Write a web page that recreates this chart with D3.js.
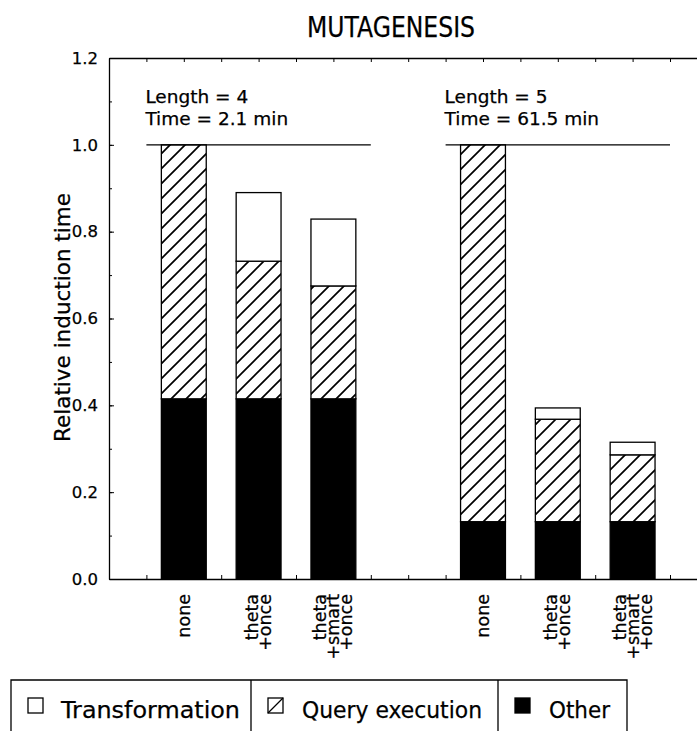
<!DOCTYPE html>
<html>
<head>
<meta charset="utf-8">
<script src="https://cdn.jsdelivr.net/npm/d3@7"></script>
<style>
  body { margin: 0; background: #fff; }
  text { font-family: "DejaVu Sans", sans-serif; fill: #000; stroke: #000; stroke-width: 0.25px; }
</style>
</head>
<body>
<div id="chart"></div>
<script>
// data
const groupLengths = ["Length = 4", "Length = 5"];
const groupTimes = ["Time = 2.1 min", "Time = 61.5 min"];
const methods = [["none"], ["theta", "+once"], ["theta", "+smart", "+once"]];
const otherVals = [[0.415, 0.415, 0.415], [0.132, 0.132, 0.132]];
const queryVals = [[0.585, 0.317, 0.260], [0.868, 0.236, 0.154]];
const transformVals = [[0.0, 0.158, 0.154], [0.0, 0.026, 0.029]];
const yTicks = [0.0, 0.2, 0.4, 0.6, 0.8, 1.0, 1.2];
const baseline = 1.0;
const legendNames = ["Transformation", "Query execution", "Other"];

const W = 697, H = 731;
const margin = { top: 58, left: 109, bottom: 152 };

const svg = d3.select("#chart")
  .append("svg")
    .attr("width", W)
    .attr("height", H);

const defs = svg.append("defs");
const hatch = defs.append("pattern")
    .attr("id", "hatch")
    .attr("patternUnits", "userSpaceOnUse")
    .attr("width", 15)
    .attr("height", 15);
hatch.append("rect").attr("width", 15).attr("height", 15).attr("fill", "#fff");
hatch.append("path")
    .attr("d", "M-4,4L4,-4M0,15L15,0M11,19L19,11")
    .attr("stroke", "#000")
    .attr("stroke-width", 1.7);

// x runs in "slot" units, 2 slots between bars, 8 per group
const x = d3.scaleLinear()
  .domain([0, 16])
  .range([margin.left, margin.left + 16 * 37.4]);

const y = d3.scaleLinear()
  .domain([0, 1.2])
  .range([H - margin.bottom, margin.top]);

const slot = (g, i) => 2 + 8 * g + 2 * i;
const barW = x(1.2) - x(0);

// axes
const yMinor = d3.range(0, 1.21, 0.1);
svg.append("g")
  .attr("transform", `translate(${margin.left},0)`)
  .call(d3.axisLeft(y).tickValues(yMinor).tickSize(-3).tickSizeOuter(0).tickFormat(""))
  .call(g => g.select(".domain").remove());

svg.append("g")
  .attr("transform", `translate(${margin.left},0)`)
  .call(d3.axisLeft(y).tickValues(yTicks).tickSize(-5).tickSizeOuter(0).tickFormat(d3.format(".1f")))
  .call(g => g.selectAll("text").attr("x", -11).attr("font-size", 16.5))
  .call(g => g.select(".domain").attr("stroke-width", 1.3));

const xTicks = d3.range(0, 17);
svg.append("g")
  .attr("transform", `translate(0,${y(1.2)})`)
  .call(d3.axisTop(x).tickValues(xTicks).tickSize(-4).tickSizeOuter(0).tickFormat(""))
  .call(g => g.select(".domain").attr("stroke-width", 1.3));

svg.append("g")
  .attr("transform", `translate(0,${y(0)})`)
  .call(d3.axisBottom(x).tickValues(xTicks).tickSize(-4).tickSizeOuter(0).tickFormat(""))
  .call(g => g.select(".domain").attr("stroke-width", 1.3));

// stacked bars
const segments = [];
otherVals.forEach((row, g) => {
  row.forEach((o, i) => {
    const q = queryVals[g][i], t = transformVals[g][i];
    segments.push({ g, i, y0: 0, y1: o, fill: "#000" });
    segments.push({ g, i, y0: o, y1: o + q, fill: "url(#hatch)" });
    if (t > 0) segments.push({ g, i, y0: o + q, y1: o + q + t, fill: "#fff" });
  });
});

svg.append("g")
  .selectAll("rect")
  .data(segments)
  .enter()
  .append("rect")
    .attr("x", d => x(slot(d.g, d.i)) - barW / 2)
    .attr("y", d => y(d.y1))
    .attr("width", barW)
    .attr("height", d => y(d.y0) - y(d.y1))
    .attr("fill", d => d.fill)
    .attr("stroke", "#000")
    .attr("stroke-width", 1.3);

// reference line at 1.0 and group notes
groupLengths.forEach((label, g) => {
  svg.append("line")
    .attr("x1", x(slot(g, 0) - 1))
    .attr("x2", x(slot(g, 2) + 1))
    .attr("y1", y(baseline))
    .attr("y2", y(baseline))
    .attr("stroke", "#000")
    .attr("stroke-width", 1.3);

  svg.append("text")
    .attr("x", x(slot(g, 0) - 1) - 1)
    .attr("y", margin.top + 45)
    .attr("font-size", 18.5)
    .text(label);
  svg.append("text")
    .attr("x", x(slot(g, 0) - 1) - 1)
    .attr("y", margin.top + 67)
    .attr("font-size", 18.5)
    .text(groupTimes[g]);
});

// rotated category labels
groupLengths.forEach((_, g) => {
  methods.forEach((lines, i) => {
    const cx = x(slot(g, i));
    lines.forEach((line, j) => {
      svg.append("text")
        .attr("transform", `translate(${cx + (j - (lines.length - 1) / 2) * 13 + 6},${y(0) + 15}) rotate(-90)`)
        .attr("text-anchor", "end")
        .attr("font-size", 17.5)
        .text(line);
    });
  });
});

// title and y label
svg.append("text")
  .attr("x", 391)
  .attr("y", 37)
  .attr("text-anchor", "middle")
  .attr("font-size", 28)
  .attr("textLength", 168)
  .attr("lengthAdjust", "spacingAndGlyphs")
  .text("MUTAGENESIS");

svg.append("text")
  .attr("transform", `translate(70,${(y(0) + y(1.2)) / 2 - 1}) rotate(-90)`)
  .attr("text-anchor", "middle")
  .attr("font-size", 21.5)
  .text("Relative induction time");

// legend boxes
const boxEdges = [11, 251, 498, 627];
const legendWidths = [179, 180, 61];
const legTop = 680;
svg.append("path")
  .attr("d", `M${boxEdges[0]},${H + 5}V${legTop}H${boxEdges[3]}V${H + 5}` +
    boxEdges.slice(1, 3).map(e => `M${e},${legTop}V${H + 5}`).join(""))
  .attr("fill", "none")
  .attr("stroke", "#000")
  .attr("stroke-width", 1.3);

const legend = svg.append("g")
  .selectAll("g")
  .data(legendNames)
  .enter()
  .append("g")
    .attr("transform", (d, k) => `translate(${boxEdges[k]},0)`);

legend.append("rect")
  .attr("x", 17)
  .attr("y", 698)
  .attr("width", 15)
  .attr("height", 15)
  .attr("fill", (d, k) => k === 2 ? "#000" : "#fff")
  .attr("stroke", "#000")
  .attr("stroke-width", 1.3);

legend.filter((d, k) => k === 1)
  .append("line")
  .attr("x1", 17).attr("y1", 713)
  .attr("x2", 32).attr("y2", 698)
  .attr("stroke", "#000")
  .attr("stroke-width", 1.3);

legend.append("text")
  .attr("x", (d, k) => k === 0 ? 50 : 51)
  .attr("y", 718)
  .attr("font-size", 23)
  .attr("textLength", (d, k) => legendWidths[k])
  .attr("lengthAdjust", "spacingAndGlyphs")
  .text(d => d);
</script>
</body>
</html>
